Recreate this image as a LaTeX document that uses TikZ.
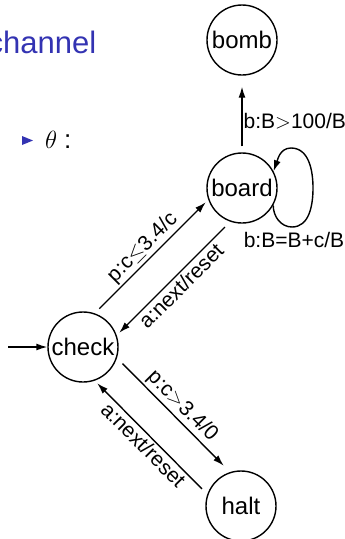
\documentclass[tikz,border=0pt]{standalone}
\usepackage{fontspec}
\setmainfont{Liberation Sans}
\usetikzlibrary{arrows.meta}
\definecolor{structure}{RGB}{51,51,178}
\begin{document}
\begin{tikzpicture}[x=1pt,y=-1pt,
  state/.style={circle, draw, line width=1.4pt, minimum size=70pt, inner sep=0pt,
    font=\fontsize{24}{28}\selectfont},
  trans/.style={line width=1.4pt, -{Latex[length=11pt,width=7pt]}},
  lbl/.style={font=\fontsize{21}{25}\selectfont, inner sep=2pt}]
\useasboundingbox (0,0) rectangle (345,539);

% slide heading and bullet
\node[anchor=base west, inner sep=0pt, text=structure,
      font=\fontsize{31}{36}\selectfont] (title) at (-12.5,53) {channel};
\fill[structure] (22,136) -- (33,140.5) -- (22,145) -- cycle;
\node[anchor=base west, inner sep=0pt, font=\fontsize{26}{30}\selectfont]
      (theta) at (45,148) {$\theta$\hspace{7pt}:};

% states
\node[state] (bomb)  at (242,40)  {bomb};
\node[state] (board) at (242,188) {board};
\node[state] (check) at (83,347)  {check};
\node[state] (halt)  at (241,506) {halt};
\coordinate (init) at (8,347);
% way points of the self-loop on board
\coordinate (loopB) at (292,227);
\coordinate (loopR) at (313,188);
\coordinate (loopT) at (291,148);

% transitions
\draw[trans] (init) -- (check);
\draw[trans, shorten <=6pt, shorten >=11pt] (board) --
  node[lbl, right, inner sep=1pt, pos=0.41] (lbomb) {b:B$>$100/B} (bomb);
\draw[trans] (board.-29) to[out=-90, in=180] (loopB)
  to[out=0, in=-90] (loopR) to[out=90, in=0] (loopT)
  to[out=180, in=70] (board.28);
\node[lbl, anchor=north, inner sep=0pt] (lloop) at (294,232) {b:B=B+c/B};
\draw[trans, shorten <=3pt] ([shift={(-11,-11)}]check.45) --
  node[lbl, sloped, above] (lcb) {p:c$\leq$3.4/c} ([shift={(-11,-11)}]board.-135);
\draw[trans, shorten <=4pt] ([shift={(11,11)}]board.-135) --
  node[lbl, sloped, below] (lbc) {a:next/reset} ([shift={(11,11)}]check.45);
\draw[trans, shorten <=4pt, shorten >=5pt] ([shift={(11.5,-11.5)}]check.-45) --
  node[lbl, sloped, above] (lch) {p:c$>$3.4/0} ([shift={(11.5,-11.5)}]halt.135);
\draw[trans, shorten <=4pt] ([shift={(-11,11)}]halt.135) --
  node[lbl, sloped, below] (lhc) {a:next/reset} ([shift={(-11,11)}]check.-45);
\end{tikzpicture}
\end{document}
